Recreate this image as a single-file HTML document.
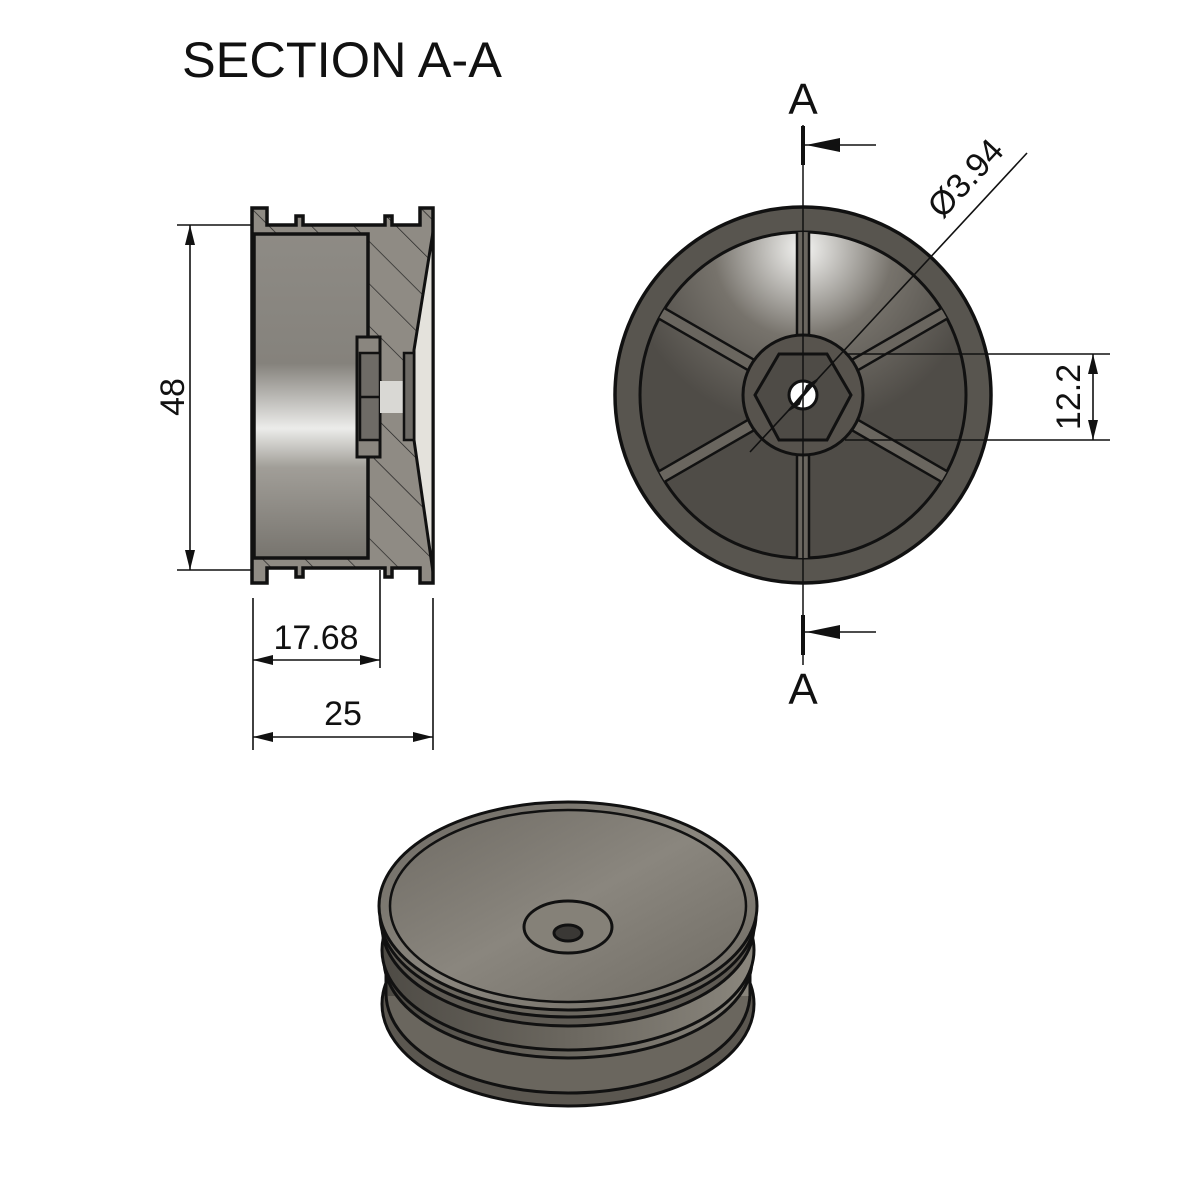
<!DOCTYPE html>
<html><head><meta charset="utf-8"><style>
html,body{margin:0;padding:0;background:#fff;}
svg{display:block;}
text{font-family:"Liberation Sans",Arial,sans-serif;fill:#111;}
</style></head><body>
<svg width="1200" height="1200" viewBox="0 0 1200 1200" xmlns="http://www.w3.org/2000/svg">
<defs>
<pattern id="hatch" patternUnits="userSpaceOnUse" width="30" height="30" patternTransform="rotate(-45)">
<rect width="30" height="30" fill="#8f8b84"/>
<line x1="0" y1="0" x2="0" y2="30" stroke="#222" stroke-width="1.4"/>
</pattern>
<linearGradient id="cav" x1="0" y1="0" x2="0" y2="1">
<stop offset="0" stop-color="#8e8b85"/>
<stop offset="0.4" stop-color="#85827c"/>
<stop offset="0.6" stop-color="#ececea"/>
<stop offset="0.72" stop-color="#a19e98"/>
<stop offset="1" stop-color="#77746e"/>
</linearGradient>
<radialGradient id="face" cx="0.5" cy="0.05" r="0.55">
<stop offset="0" stop-color="#f4f4f2"/>
<stop offset="0.5" stop-color="#77736c"/>
<stop offset="1" stop-color="#4f4c47"/>
</radialGradient>
<linearGradient id="body" x1="0" y1="0" x2="1" y2="0">
<stop offset="0" stop-color="#4e4b45"/>
<stop offset="0.5" stop-color="#6b675f"/>
<stop offset="1" stop-color="#8a867d"/>
</linearGradient>
<linearGradient id="top" x1="0" y1="0" x2="1" y2="1">
<stop offset="0" stop-color="#6d6962"/>
<stop offset="0.5" stop-color="#8a867e"/>
<stop offset="1" stop-color="#6e6a62"/>
</linearGradient>
<clipPath id="inring"><circle cx="803" cy="395" r="163"/></clipPath>
</defs>

<text x="182" y="77" font-size="50.5">SECTION A-A</text>

<path d="M252 208 H267 V225 H296 V216 H303 V225 H385 V216 H392 V225 H420 V208 H433 V583 H420 V568 H392 V577 H385 V568 H303 V577 H296 V568 H267 V583 H252 Z" fill="url(#hatch)" stroke="#111" stroke-width="3.5" stroke-linejoin="miter"/>
<rect x="254" y="234" width="114" height="324" fill="url(#cav)" stroke="#111" stroke-width="3.5"/>
<path d="M433 232 L414 350 L414 440 L433 572 Z" fill="#e4e2dc" stroke="#111" stroke-width="3"/>
<path d="M357 337 H380 V457 H357 Z" fill="#8a867f" stroke="#111" stroke-width="3"/>
<rect x="360" y="353" width="20" height="87" fill="#6e6b66" stroke="#111" stroke-width="2.5"/>
<line x1="360" y1="397" x2="380" y2="397" stroke="#111" stroke-width="2.5"/>
<rect x="380" y="381" width="24" height="32" fill="#d9d8d4"/>
<rect x="404" y="353" width="10" height="87" fill="#6e6b66" stroke="#111" stroke-width="2.5"/>

<g stroke="#111" stroke-width="1.6" fill="none">
<line x1="177" y1="225" x2="252" y2="225"/>
<line x1="177" y1="570" x2="252" y2="570"/>
<line x1="190" y1="225" x2="190" y2="570"/>
<line x1="253" y1="598" x2="253" y2="750"/>
<line x1="380" y1="570" x2="380" y2="668"/>
<line x1="433" y1="598" x2="433" y2="750"/>
<line x1="253" y1="660" x2="380" y2="660"/>
<line x1="253" y1="737" x2="433" y2="737"/>
</g>
<g fill="#111">
<path d="M190 225 l-5 20 h10z"/><path d="M190 570 l-5 -20 h10z"/>
<path d="M253 660 l20 -5 v10z"/><path d="M380 660 l-20 -5 v10z"/>
<path d="M253 737 l20 -5 v10z"/><path d="M433 737 l-20 -5 v10z"/>
</g>
<text x="184" y="397" font-size="34" text-anchor="middle" transform="rotate(-90 184 397)">48</text>
<text x="316" y="649" font-size="34" text-anchor="middle">17.68</text>
<text x="343" y="725" font-size="34" text-anchor="middle">25</text>

<circle cx="803" cy="395" r="188" fill="#58554f" stroke="#111" stroke-width="3.5"/>
<circle cx="803" cy="395" r="163" fill="url(#face)" stroke="#111" stroke-width="3"/>
<g clip-path="url(#inring)" stroke="#111" stroke-width="2.5" fill="#6a665f">
<g transform="translate(803 395)">
<rect x="-6" y="-170" width="12" height="170"/>
<rect x="-6" y="-170" width="12" height="170" transform="rotate(60)"/>
<rect x="-6" y="-170" width="12" height="170" transform="rotate(120)"/>
<rect x="-6" y="-170" width="12" height="170" transform="rotate(180)"/>
<rect x="-6" y="-170" width="12" height="170" transform="rotate(240)"/>
<rect x="-6" y="-170" width="12" height="170" transform="rotate(300)"/>
</g>
</g>
<circle cx="803" cy="395" r="60" fill="#57534d" stroke="#111" stroke-width="3"/>
<polygon points="755,395 779,354 827,354 851,395 827,440 779,440" fill="#4e4b46" stroke="#111" stroke-width="3"/>
<circle cx="803" cy="395" r="14" fill="#fff" stroke="#111" stroke-width="3"/>

<g stroke="#111" fill="none">
<line x1="803" y1="125" x2="803" y2="665" stroke-width="1.5"/>
<line x1="803" y1="126" x2="803" y2="165" stroke-width="4"/>
<line x1="803" y1="615" x2="803" y2="655" stroke-width="4"/>
<line x1="805" y1="145" x2="876" y2="145" stroke-width="1.6"/>
<line x1="805" y1="632" x2="876" y2="632" stroke-width="1.6"/>
</g>
<path d="M806 145 l34 -7 v14z" fill="#111"/>
<path d="M806 632 l34 -7 v14z" fill="#111"/>
<text x="803" y="114" font-size="44" text-anchor="middle">A</text>
<text x="803" y="704" font-size="44" text-anchor="middle">A</text>

<line x1="750" y1="452" x2="1027" y2="153" stroke="#111" stroke-width="1.6"/>
<path d="M789 410 l14 -16 l-4 10z" fill="#111" stroke="#111" stroke-width="2"/>
<path d="M817 380 l-14 16 l4 -10z" fill="#111" stroke="#111" stroke-width="2"/>
<text x="974" y="186" font-size="34" text-anchor="middle" transform="rotate(-47 974 186)">Ø3.94</text>

<g stroke="#111" stroke-width="1.6">
<line x1="845" y1="354" x2="1110" y2="354"/>
<line x1="845" y1="440" x2="1110" y2="440"/>
<line x1="1093" y1="354" x2="1093" y2="440"/>
</g>
<path d="M1093 354 l-5 20 h10z" fill="#111"/><path d="M1093 440 l-5 -20 h10z" fill="#111"/>
<text x="1080" y="397" font-size="34" text-anchor="middle" transform="rotate(-90 1080 397)">12.2</text>

<g stroke="#111" stroke-width="3">
<ellipse cx="568" cy="1004" rx="186" ry="102" fill="#5b5750"/>
<ellipse cx="568" cy="993" rx="182" ry="100" fill="#6a665e"/>
<rect x="386" y="906" width="364" height="90" fill="url(#body)" stroke="none"/>
<line x1="386" y1="906" x2="386" y2="996"/>
<line x1="750" y1="906" x2="750" y2="996"/>
<ellipse cx="568" cy="960" rx="184" ry="98" fill="url(#body)"/>
<ellipse cx="568" cy="950" rx="186" ry="100" fill="url(#body)"/>
<ellipse cx="568" cy="926" rx="186" ry="100" fill="#5f5b54"/>
<ellipse cx="568" cy="915" rx="188" ry="102" fill="#6b675f"/>
<ellipse cx="568" cy="906" rx="189" ry="104" fill="url(#top)"/>
<ellipse cx="568" cy="906" rx="178" ry="96" fill="none" stroke-width="2.5"/>
<ellipse cx="568" cy="927" rx="44" ry="26" fill="#858178"/>
<ellipse cx="568" cy="933" rx="14" ry="8" fill="#3a3835"/>
</g>
</svg>
</body></html>
